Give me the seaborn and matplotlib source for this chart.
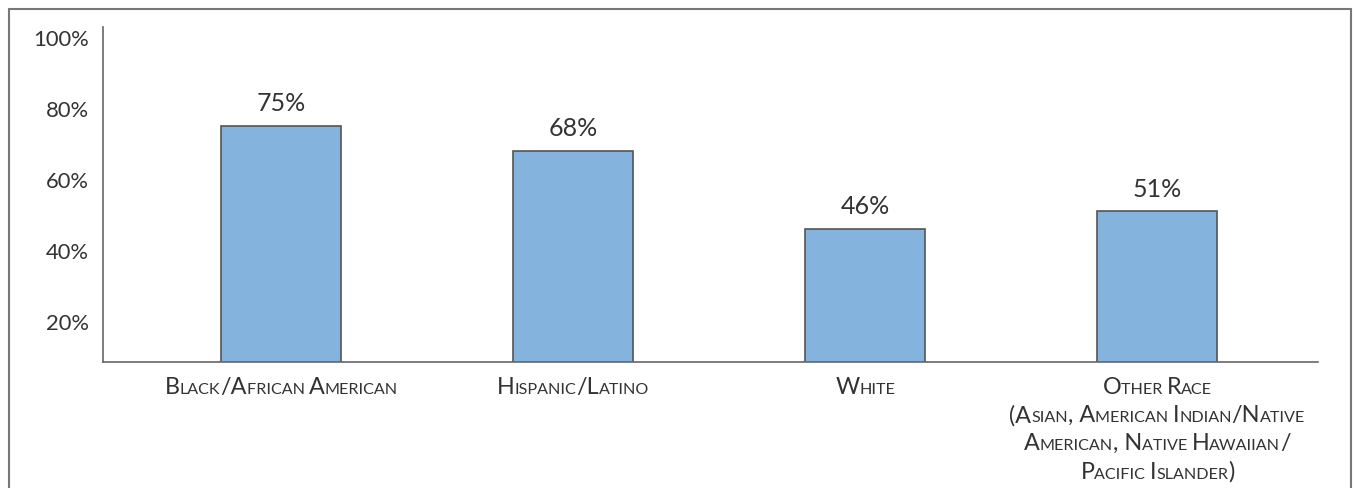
import pandas as pd
import seaborn as sns
import matplotlib.pyplot as plt
from matplotlib.lines import Line2D
from matplotlib.offsetbox import TextArea, HPacker, VPacker, AnnotationBbox

groups = ["Black/African American", "Hispanic/Latino", "White", "Other Race"]
label_lines = [
    ["Black/African American"],
    ["Hispanic/Latino"],
    ["White"],
    ["Other Race", "(Asian, American Indian/Native",
     "American, Native Hawaiian/", "Pacific Islander)"],
]
shares = [75, 68, 46, 51]
y_ticks = [20, 40, 60, 80, 100]

TEXT = "#333333"
BIG, SMALL = 16.8, 11.6

sns.set_style("white")
plt.rcParams["font.family"] = ["Lato", "DejaVu Sans"]


def small_caps_line(line):
    # split into runs of lowercase (small) and everything else (big)
    runs = []
    for ch in line:
        small = ch.islower() or (ch == " " and runs and runs[-1][1])
        if runs and runs[-1][1] == small:
            runs[-1][0] += ch.upper()
        else:
            runs.append([ch.upper(), small])
    boxes = [TextArea(s, textprops=dict(fontsize=SMALL if sm else BIG, color=TEXT))
             for s, sm in runs]
    return HPacker(children=boxes, align="baseline", pad=0, sep=0)


df = pd.DataFrame({"group": groups, "share": shares})

fig = plt.figure(figsize=(13.55, 4.89), dpi=100)
ax = fig.add_axes([0.076, 0.2577, 0.8967, 0.685])

sns.barplot(data=df, x="group", y="share", color="#84b3de", saturation=1,
            edgecolor="#555555", linewidth=1.2, width=0.41, ax=ax)

ax.set_xlim(-0.61, 3.55)
ax.set_ylim(8.45, 102.8)
ax.set_yticks(y_ticks, [f"{v}%" for v in y_ticks])
ax.set_xticks(range(len(groups)), [""] * len(groups))
ax.set_xlabel("")
ax.set_ylabel("")
ax.tick_params(length=0, pad=10, labelsize=15.8, colors=TEXT)

for s in ["top", "right"]:
    ax.spines[s].set_visible(False)
for s in ["left", "bottom"]:
    ax.spines[s].set_color("#666666")
    ax.spines[s].set_linewidth(1.2)

for i, v in enumerate(shares):
    ax.annotate(f"{v}%", (i, v), xytext=(0, 11), textcoords="offset points",
                ha="center", va="baseline", fontsize=18, color=TEXT)

for i, lines in enumerate(label_lines):
    box = VPacker(children=[small_caps_line(l) for l in lines],
                  align="center", pad=0, sep=5)
    ab = AnnotationBbox(box, (i, 0), xycoords=("data", "axes fraction"),
                        xybox=(0, -10), boxcoords="offset points",
                        box_alignment=(0.5, 1), frameon=False)
    ax.add_artist(ab)

# outer frame
frame = dict(transform=fig.transFigure, color="#777777", lw=1.5)
x0, x1, y1 = 9 / 1355, 1351 / 1355, 1 - 10 / 489
fig.add_artist(Line2D([x0, x0], [0, y1], **frame))
fig.add_artist(Line2D([x0, x1], [y1, y1], **frame))
fig.add_artist(Line2D([x1, x1], [0, y1], **frame))

plt.savefig("out.png", dpi=100)
